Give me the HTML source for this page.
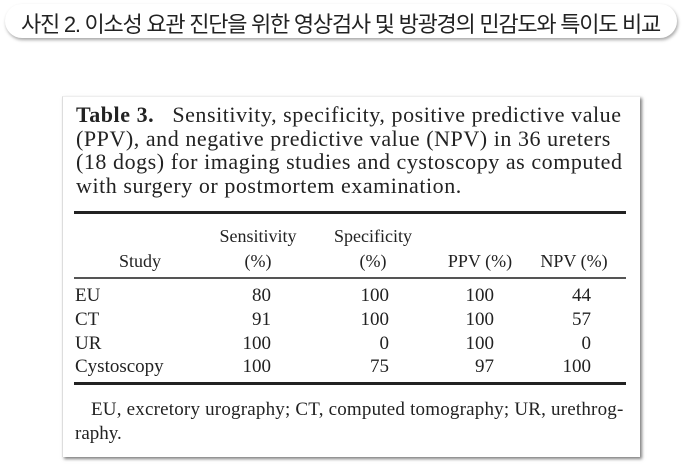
<!DOCTYPE html>
<html><head><meta charset="utf-8"><style>
body{margin:0;width:683px;height:467px;background:#fff;position:relative;overflow:hidden;font-family:"Liberation Serif",serif;color:#222}
.pill{position:absolute;left:5px;top:4px;width:672px;height:34px;border-radius:18px;background:#fff;box-shadow:1px 2px 3px rgba(0,0,0,.35);}
.pill span{position:absolute;left:16px;top:3px;font-family:"Liberation Sans","Noto Sans CJK KR",sans-serif;font-size:22px;letter-spacing:-1.25px;color:#222;white-space:nowrap}
.box{position:absolute;left:62px;top:96px;width:577px;height:360px;background:#fff;box-shadow:2px 2px 3px rgba(0,0,0,.5);border-left:1px solid #ddd;border-top:1px solid #eee}
.t{position:absolute;white-space:nowrap;font-size:19px;line-height:20px}
.cap{font-size:22px;left:76px;letter-spacing:0.55px}
.h{font-size:18px}
.r{text-align:right}
.c{text-align:center}
.rule{position:absolute;left:74px;width:552px;background:#222}
</style></head><body>
<div class="pill"><span>사진 2. 이소성 요관 진단을 위한 영상검사 및 방광경의 민감도와 특이도 비교</span></div>
<div class="box"></div>
<div class="t cap" style="top:105px"><b>Table 3.</b>&nbsp;&nbsp; Sensitivity, specificity, positive predictive value</div>
<div class="t cap" style="top:129px">(PPV), and negative predictive value (NPV) in 36 ureters</div>
<div class="t cap" style="top:152px">(18 dogs) for imaging studies and cystoscopy as computed</div>
<div class="t cap" style="top:176px">with surgery or postmortem examination.</div>
<div class="rule" style="top:211px;height:3px"></div>
<div class="t c h" style="left:214px;width:88px;top:226px">Sensitivity</div>
<div class="t c h" style="left:214px;width:88px;top:251px">(%)</div>
<div class="t c h" style="left:326px;width:94px;top:226px">Specificity</div>
<div class="t c h" style="left:326px;width:94px;top:251px">(%)</div>
<div class="t c h" style="left:100px;width:80px;top:251px">Study</div>
<div class="t c h" style="left:436px;width:88px;top:251px">PPV (%)</div>
<div class="t c h" style="left:530px;width:88px;top:251px">NPV (%)</div>
<div class="rule" style="top:277px;height:1.5px;background:#555"></div>
<div class="t" style="left:75px;top:286px">EU</div>
<div class="t" style="left:75px;top:310px">CT</div>
<div class="t" style="left:75px;top:334px">UR</div>
<div class="t" style="left:75px;top:357px">Cystoscopy</div>
<div class="t r" style="left:220px;width:51px;top:286px">80</div>
<div class="t r" style="left:220px;width:51px;top:310px">91</div>
<div class="t r" style="left:220px;width:51px;top:334px">100</div>
<div class="t r" style="left:220px;width:51px;top:357px">100</div>
<div class="t r" style="left:330px;width:59px;top:286px">100</div>
<div class="t r" style="left:330px;width:59px;top:310px">100</div>
<div class="t r" style="left:330px;width:59px;top:334px">0</div>
<div class="t r" style="left:330px;width:59px;top:357px">75</div>
<div class="t r" style="left:440px;width:54px;top:286px">100</div>
<div class="t r" style="left:440px;width:54px;top:310px">100</div>
<div class="t r" style="left:440px;width:54px;top:334px">100</div>
<div class="t r" style="left:440px;width:54px;top:357px">97</div>
<div class="t r" style="left:540px;width:51px;top:286px">44</div>
<div class="t r" style="left:540px;width:51px;top:310px">57</div>
<div class="t r" style="left:540px;width:51px;top:334px">0</div>
<div class="t r" style="left:540px;width:51px;top:357px">100</div>
<div class="rule" style="top:382px;height:3px"></div>
<div class="t" style="left:91px;top:400px;font-size:19px;letter-spacing:0.2px">EU, excretory urography; CT, computed tomography; UR, urethrog-</div>
<div class="t" style="left:75px;top:424px;font-size:19px">raphy.</div>
</body></html>
